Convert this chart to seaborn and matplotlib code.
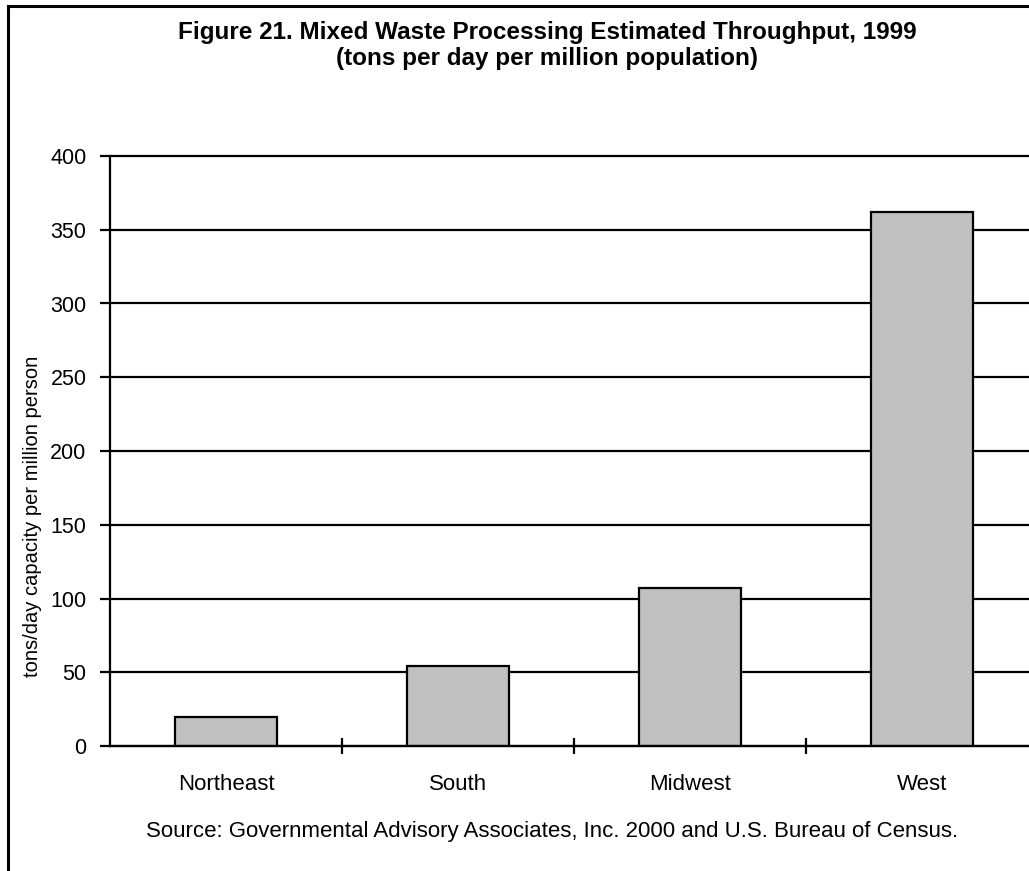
import matplotlib
matplotlib.use("Agg")
import matplotlib.pyplot as plt
from matplotlib import font_manager
from matplotlib.patches import Rectangle
import seaborn as sns
import pandas as pd

# data
regions = ["Northeast", "South", "Midwest", "West"]
throughput = [20, 54, 107, 362]
y_ticks = [0, 50, 100, 150, 200, 250, 300, 350, 400]

df = pd.DataFrame({"region": regions, "tpd": throughput})

sns.set_style("white")
plt.rcParams["font.family"] = ["Liberation Sans", "DejaVu Sans"]
plt.rcParams["text.color"] = "black"
plt.rcParams["axes.labelcolor"] = "black"

# make sure the bold title uses plain Liberation Sans Bold, not the Narrow one
bold_file = None
for f in font_manager.fontManager.ttflist:
    if f.name == "Liberation Sans" and f.weight in (700, "bold") and f.style == "normal" \
            and "Narrow" not in f.fname:
        bold_file = f.fname
        break
if bold_file:
    title_font = font_manager.FontProperties(fname=bold_file, size=17.5)
else:
    title_font = font_manager.FontProperties(family="Liberation Sans", weight="bold", size=17.5)

fig = plt.figure(figsize=(10.29, 8.71), dpi=100)
ax = fig.add_axes([110 / 1029, 1 - 746 / 871, 928 / 1029, 590 / 871])

sns.barplot(data=df, x="region", y="tpd", color="#c0c0c0", edgecolor="black",
            linewidth=1.6, width=0.44, saturation=1, ax=ax, zorder=3)

ax.set_ylim(0, 400)
ax.set_xlim(-0.5, 3.5)
ax.set_yticks(y_ticks)
ax.set_yticklabels([str(v) for v in y_ticks])
ax.yaxis.grid(True, color="black", linewidth=1.6)
ax.set_axisbelow(True)
for gl in ax.get_ygridlines():
    gl.set_clip_on(False)

for s in ["top", "right"]:
    ax.spines[s].set_visible(False)
for s in ["left", "bottom"]:
    ax.spines[s].set_color("black")
    ax.spines[s].set_linewidth(1.6)
    ax.spines[s].set_zorder(4)

ax.tick_params(axis="y", direction="out", length=7, width=1.6, pad=10,
               labelsize=15.5, colors="black", left=True)
ax.tick_params(axis="x", which="major", length=0, pad=20, labelsize=16,
               colors="black")
ax.set_xticks([0.5, 1.5, 2.5], minor=True)
ax.tick_params(axis="x", which="minor", direction="inout", length=12,
               width=1.6, bottom=True, colors="black")

ax.set_xlabel("")
ax.set_ylabel("tons/day capacity per million person", fontsize=14.5, va="center")
ax.yaxis.set_label_coords(-0.083, 0.39)

fig.text(547 / 1029, 1 - 33 / 871,
         "Figure 21. Mixed Waste Processing Estimated Throughput, 1999",
         ha="center", va="center", fontproperties=title_font)
fig.text(547 / 1029, 1 - 58 / 871, "(tons per day per million population)",
         ha="center", va="center", fontproperties=title_font)
fig.text(552 / 1029, 1 - 831 / 871,
         "Source: Governmental Advisory Associates, Inc. 2000 and U.S. Bureau of Census.",
         ha="center", va="center", fontsize=16)

# chart border, cut off on the right and bottom like the original
fig.add_artist(Rectangle((8 / 1029, -0.1), 1.2, 1 - 6 / 871 + 0.1,
                         transform=fig.transFigure, fill=False,
                         edgecolor="black", linewidth=2.2))

fig.savefig("out.png", dpi=100)
